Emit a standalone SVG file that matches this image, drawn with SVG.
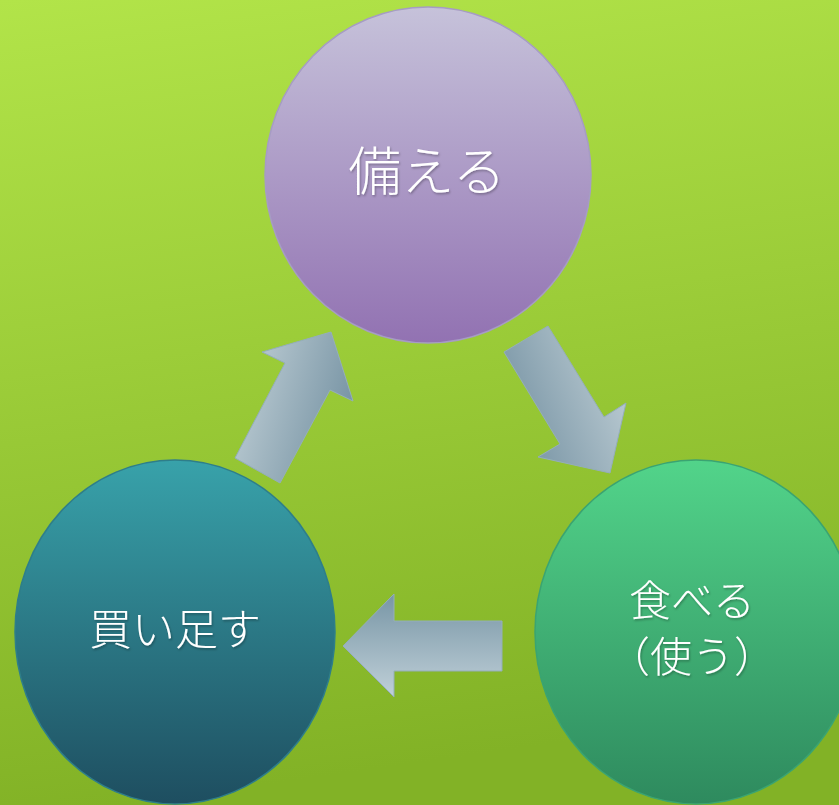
<svg xmlns="http://www.w3.org/2000/svg" width="839" height="805" viewBox="0 0 839 805">
<defs>
<linearGradient id="bg" x1="0" y1="0" x2="0.15" y2="1">
<stop offset="0" stop-color="#b2e449"/>
<stop offset="1" stop-color="#82b226"/>
</linearGradient>
<linearGradient id="gTop" x1="0" y1="0" x2="0" y2="1">
<stop offset="0" stop-color="#c6c2da"/>
<stop offset="1" stop-color="#9272b2"/>
</linearGradient>
<linearGradient id="gLeft" x1="0" y1="0" x2="0" y2="1">
<stop offset="0" stop-color="#38a2aa"/>
<stop offset="1" stop-color="#1e4e60"/>
</linearGradient>
<linearGradient id="gRight" x1="0" y1="0" x2="0" y2="1">
<stop offset="0" stop-color="#52d48a"/>
<stop offset="1" stop-color="#2e8a5e"/>
</linearGradient>
<linearGradient id="aUp" x1="0" y1="0" x2="1" y2="0.4">
<stop offset="0" stop-color="#c6d4da"/>
<stop offset="1" stop-color="#7a96a6"/>
</linearGradient>
<linearGradient id="aDown" x1="0" y1="0.5" x2="1" y2="0">
<stop offset="0" stop-color="#7a96a6"/>
<stop offset="1" stop-color="#c6d4da"/>
</linearGradient>
<linearGradient id="aLeft" x1="0" y1="0" x2="0" y2="1">
<stop offset="0" stop-color="#7896a6"/>
<stop offset="1" stop-color="#c0d0d8"/>
</linearGradient>
<filter id="ts" x="-10%" y="-10%" width="120%" height="130%">
<feDropShadow dx="1" dy="1.5" stdDeviation="1" flood-color="#000" flood-opacity="0.3"/>
</filter>
</defs>
<style>
.node ellipse{stroke-width:1.5}
.lbl{font-family:"Noto Sans CJK JP","Noto Sans",sans-serif;font-weight:300;fill:#ffffff;text-anchor:middle;filter:url(#ts)}
.arrow{stroke:#94aebb;stroke-width:1}
</style>
<rect x="0" y="0" width="839" height="805" fill="url(#bg)"/>
<g id="connectors">
<polygon class="arrow" fill="url(#aUp)" points="235,458 280,483 330,390 353,401 331,332 262,352 285,363"/>
<polygon class="arrow" fill="url(#aDown)" points="504,352 548,326 604,417 626,403 610,473 538,457 560,444"/>
<polygon class="arrow" fill="url(#aLeft)" points="343,646 394,594 394,621 502,621 502,671 394,671 394,697"/>
</g>
<g id="node-sonaeru" class="node">
<ellipse cx="428" cy="175" rx="163" ry="168" fill="url(#gTop)" stroke="#a69cc4"/>
<text class="lbl" x="427" y="191" font-size="53">備える</text>
</g>
<g id="node-kaitasu" class="node">
<ellipse cx="175" cy="632" rx="160" ry="172" fill="url(#gLeft)" stroke="#2e7e8a"/>
<text class="lbl" x="175" y="645" font-size="43">買い足す</text>
</g>
<g id="node-taberu" class="node">
<ellipse cx="696" cy="632" rx="161" ry="172" fill="url(#gRight)" stroke="#3aa472"/>
<text class="lbl" x="692" y="616" font-size="42">食べる</text>
<text class="lbl" x="692" y="672" font-size="42">（使う）</text>
</g>
</svg>
